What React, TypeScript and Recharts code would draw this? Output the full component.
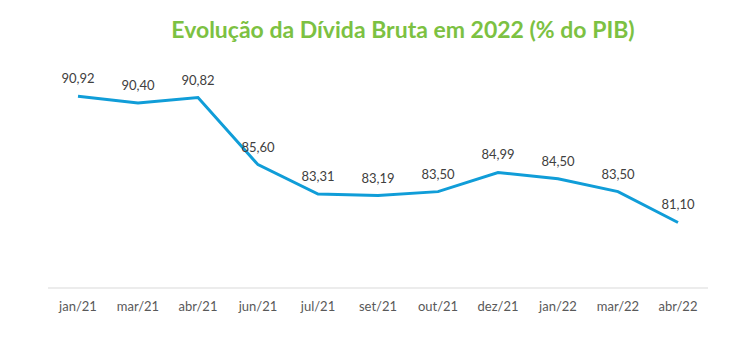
import React from "react";
import { LineChart, Line, XAxis, YAxis, LabelList } from "recharts";

const months = ["jan/21", "mar/21", "abr/21", "jun/21", "jul/21", "set/21", "out/21", "dez/21", "jan/22", "mar/22", "abr/22"];
const divida = [90.92, 90.4, 90.82, 85.6, 83.31, 83.19, 83.5, 84.99, 84.5, 83.5, 81.1];

const data = months.map((m, i) => ({ month: m, value: divida[i] }));

const font = "Lato, 'Open Sans', sans-serif";

export default function App() {
  return (
    <div style={{ position: "absolute", left: 0, top: 0, width: 750, height: 355, background: "#fff", fontFamily: font }}>
      <div
        style={{
          position: "absolute",
          top: 15,
          left: 0,
          width: 806,
          textAlign: "center",
          color: "#7cc142",
          fontSize: 23,
          fontWeight: 700,
        }}
      >
        Evolução da Dívida Bruta em 2022 (% do PIB)
      </div>
      <LineChart width={750} height={355} data={data} margin={{ top: 31, right: 42, left: 48, bottom: 37 }}>
        <XAxis
          dataKey="month"
          scale="band"
          axisLine={{ stroke: "#d9d9d9" }}
          tickLine={false}
          tick={{ fill: "#595959", fontSize: 13, fontFamily: font }}
          tickMargin={8}
        />
        <YAxis hide domain={[76, 96]} />
        <Line
          dataKey="value"
          stroke="#109dd8"
          strokeWidth={3}
          dot={false}
          isAnimationActive={false}
        >
          <LabelList
            dataKey="value"
            position="top"
            offset={13}
            formatter={(v: any) => Number(v).toFixed(2).replace(".", ",")}
            style={{ fill: "#404040", fontSize: 13, fontFamily: font }}
          />
        </Line>
      </LineChart>
    </div>
  );
}
